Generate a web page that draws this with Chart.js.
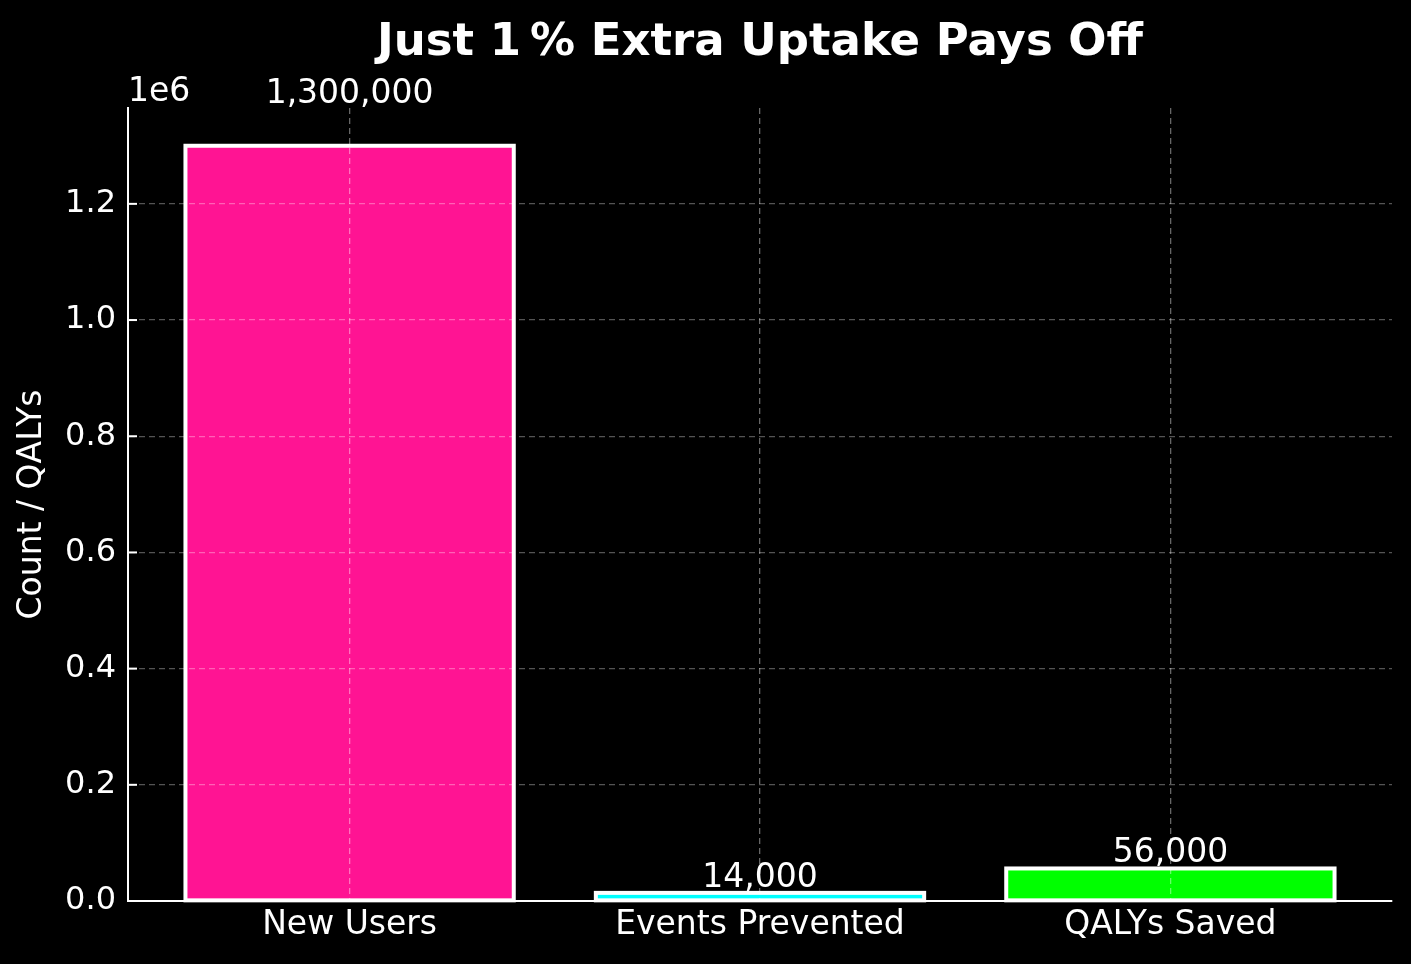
<!DOCTYPE html>
<html>
<head>
<meta charset="utf-8">
<script src="https://cdn.jsdelivr.net/npm/chart.js@4.4.0/dist/chart.umd.min.js"></script>
<style>
  html, body { margin: 0; padding: 0; background: #000; }
  #wrap { width: 1411px; height: 964px; }
</style>
</head>
<body>
<div id="wrap"><canvas id="uptakeChart"></canvas></div>
<script>
const categories = ['New Users', 'Events Prevented', 'QALYs Saved'];
const values = [1300000, 14000, 56000];
const barColors = ['#ff1493', '#00ffff', '#00ff00'];
const yTicks = [0, 200000, 400000, 600000, 800000, 1000000, 1200000];
const chartTitle = 'Just 1\u2009% Extra Uptake Pays Off';

const FONT = 'DejaVu Sans';
const yMax = Math.max(...values) * 1.05;

// black figure background
const bgPlugin = {
    id: 'bg',
    beforeDraw(chart) {
        const c = chart.ctx;
        c.save();
        c.fillStyle = '#000';
        c.fillRect(0, 0, chart.width, chart.height);
        c.restore();
    }
};

// white bar edges centred on the bar outline (like matplotlib edgecolor)
const edgePlugin = {
    id: 'edges',
    afterDatasetsDraw(chart) {
        const c = chart.ctx;
        const meta = chart.getDatasetMeta(0);
        c.save();
        c.strokeStyle = '#fff';
        c.lineWidth = 4;
        meta.data.forEach(bar => {
            const p = bar.getProps(['x', 'y', 'base', 'width'], true);
            c.strokeRect(p.x - p.width / 2, p.y, p.width, p.base - p.y);
        });
        c.restore();
    }
};

// title over plot area, inward y ticks, offset text and value labels
const extrasPlugin = {
    id: 'extras',
    afterDraw(chart) {
        const c = chart.ctx;
        const y = chart.scales.y;
        const x = chart.scales.x;
        const area = chart.chartArea;
        c.save();
        c.strokeStyle = '#fff';
        c.lineWidth = 2;
        yTicks.forEach(v => {
            const py = y.getPixelForValue(v);
            c.beginPath();
            c.moveTo(y.right, py);
            c.lineTo(y.right + 9, py);
            c.stroke();
        });

        c.fillStyle = '#fff';
        c.textBaseline = 'alphabetic';
        c.textAlign = 'center';
        c.font = 'bold 45px "' + FONT + '"';
        c.fillText(chartTitle, (area.left + area.right) / 2, 55);

        c.font = '33px "' + FONT + '"';
        c.textAlign = 'left';
        c.fillText('1e6', y.right, area.top - 7);

        c.textAlign = 'center';
        values.forEach((v, i) => {
            const px = x.getPixelForValue(i);
            const py = y.getPixelForValue(v * 1.05);
            c.fillText(v.toLocaleString('en-US'), px, py - 5);
        });
        c.restore();
    }
};

const ctx = document.getElementById('uptakeChart');
new Chart(ctx, {
    type: 'bar',
    data: {
        datasets: [{
            data: values.map((v, i) => ({ x: i, y: v })),
            backgroundColor: barColors,
            borderWidth: 0,
            barPercentage: 0.8,
            categoryPercentage: 1.0
        }]
    },
    options: {
        responsive: true,
        maintainAspectRatio: false,
        animation: false,
        devicePixelRatio: 1,
        layout: { padding: { left: 0, right: 19, top: 108, bottom: 0 } },
        plugins: {
            legend: { display: false },
            tooltip: { enabled: false },
            title: { display: false }
        },
        scales: {
            x: {
                type: 'linear',
                min: -0.54,
                max: 2.54,
                offset: false,
                afterBuildTicks(scale) {
                    scale.ticks = categories.map((c, i) => ({ value: i }));
                },
                afterFit(scale) { scale.height = 63; },
                ticks: {
                    color: '#fff',
                    font: { family: FONT, size: 33 },
                    padding: 5,
                    callback: v => categories[v]
                },
                grid: {
                    z: 1,
                    offset: false,
                    color: 'rgba(255,255,255,0.4)',
                    lineWidth: 1.3,
                    drawTicks: false
                },
                border: { z: 2, color: '#fff', width: 2, dash: [6, 4] }
            },
            y: {
                min: 0,
                max: yMax,
                afterBuildTicks(scale) {
                    scale.ticks = yTicks.map(v => ({ value: v }));
                },
                afterFit(scale) { scale.width = 128; },
                ticks: {
                    color: '#fff',
                    font: { family: FONT, size: 32 },
                    padding: 12,
                    callback: v => (v / 1e6).toFixed(1)
                },
                grid: {
                    z: 1,
                    color: 'rgba(255,255,255,0.33)',
                    lineWidth: 1.3,
                    drawTicks: false
                },
                border: { z: 2, color: '#fff', width: 2, dash: [6, 4] },
                title: {
                    display: true,
                    text: 'Count / QALYs',
                    color: '#fff',
                    font: { family: FONT, size: 33 },
                    padding: { top: 13, bottom: 0 }
                }
            }
        }
    },
    plugins: [bgPlugin, edgePlugin, extrasPlugin]
});
</script>
</body>
</html>
